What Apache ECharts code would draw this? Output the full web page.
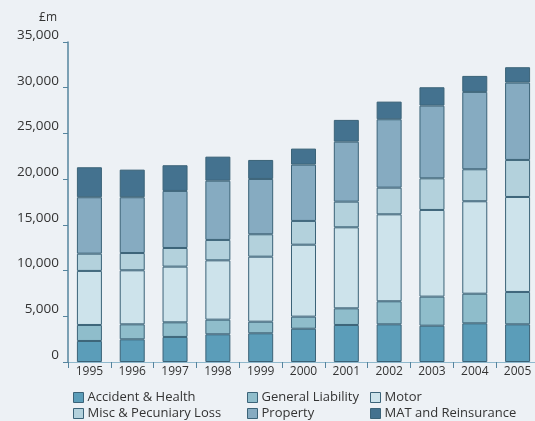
<!DOCTYPE html>
<html>
<head>
<meta charset="utf-8">
<script src="https://cdn.jsdelivr.net/npm/echarts@6/dist/echarts.min.js"></script>
<style>
  html, body { margin: 0; padding: 0; background: #edf1f5; overflow: hidden; }
  #chart { width: 545px; height: 421px; }
</style>
</head>
<body>
<div id="chart"></div>
<script>
// Gross written premiums by class of business, £m
const years = ['1995', '1996', '1997', '1998', '1999', '2000', '2001', '2002', '2003', '2004', '2005'];

const accidentHealth = [2300, 2480, 2740, 3030, 3140, 3640, 4050, 4120, 3970, 4230, 4120];
const generalLiability = [1750, 1640, 1600, 1600, 1270, 1320, 1820, 2520, 3180, 3240, 3540];
const motor = [5910, 5910, 6090, 6490, 7110, 7870, 8860, 9510, 9480, 10110, 10390];
const miscPecuniary = [1890, 1890, 2040, 2230, 2450, 2600, 2810, 2920, 3460, 3500, 4050];
const property = [6170, 6100, 6240, 6480, 6050, 6160, 6560, 7480, 7950, 8460, 8460];
const matReinsurance = [3280, 3020, 2810, 2630, 2080, 1750, 2380, 1930, 2010, 1750, 1680];

const yTicks = [0, 5000, 10000, 15000, 20000, 25000, 30000, 35000];

const seriesDefs = [
  { name: 'Accident & Health', data: accidentHealth, color: '#5b9db9' },
  { name: 'General Liability', data: generalLiability, color: '#8fbdcb' },
  { name: 'Motor', data: motor, color: '#cde3eb' },
  { name: 'Misc & Pecuniary Loss', data: miscPecuniary, color: '#b3d1dc' },
  { name: 'Property', data: property, color: '#86abc1' },
  { name: 'MAT and Reinsurance', data: matReinsurance, color: '#44728f' }
];

// legend layout: three columns, two rows
const legendCols = [73, 247, 370];
const legendRows = [391, 407];

const font = 'Open Sans';
const textColor = '#333';
const axisColor = '#55849e';

const chart = echarts.init(document.getElementById('chart'), null, { renderer: 'canvas' });

const legends = seriesDefs.map((s, i) => ({
  orient: 'horizontal',
  left: legendCols[i % 3],
  top: legendRows[Math.floor(i / 3)],
  itemWidth: 10,
  itemHeight: 10,
  itemGap: 4,
  icon: 'rect',
  padding: 0,
  itemStyle: { borderColor: '#3b6378', borderWidth: 1 },
  textStyle: { fontFamily: font, fontSize: 13, color: textColor, padding: [0, 0, 0, -1] },
  selectedMode: false,
  data: [s.name]
}));

chart.setOption({
  backgroundColor: '#edf1f5',
  animation: false,
  textStyle: { fontFamily: font },
  grid: { left: 68, right: 6, top: 42, bottom: 59, containLabel: false },
  legend: legends,
  xAxis: {
    type: 'category',
    data: years,
    axisLine: { show: true, lineStyle: { color: '#8fb8cc', width: 1 } },
    axisTick: { show: true, alignWithLabel: false, length: 6, lineStyle: { color: axisColor } },
    axisLabel: { fontFamily: font, fontSize: 12, color: textColor, margin: 4 }
  },
  yAxis: {
    type: 'value',
    min: yTicks[0],
    max: yTicks[yTicks.length - 1],
    interval: 5000,
    name: '£m',
    nameLocation: 'end',
    nameGap: 18,
    nameTextStyle: { fontFamily: font, fontSize: 12, color: textColor, align: 'right', padding: [0, 11, 0, 0] },
    splitLine: { show: false },
    axisLine: { show: true, lineStyle: { color: axisColor, width: 1.5 } },
    axisTick: { show: true, length: 5, lineStyle: { color: axisColor } },
    axisLabel: {
      fontFamily: font, fontSize: 13.5, color: textColor, margin: 9,
      verticalAlign: 'bottom',
      formatter: v => v.toLocaleString('en-GB')
    }
  },
  series: seriesDefs.map(s => ({
    name: s.name,
    type: 'bar',
    stack: 'total',
    barWidth: 25,
    data: s.data,
    itemStyle: { color: s.color, borderColor: '#3b6378', borderWidth: 1 }
  }))
});
</script>
</body>
</html>
